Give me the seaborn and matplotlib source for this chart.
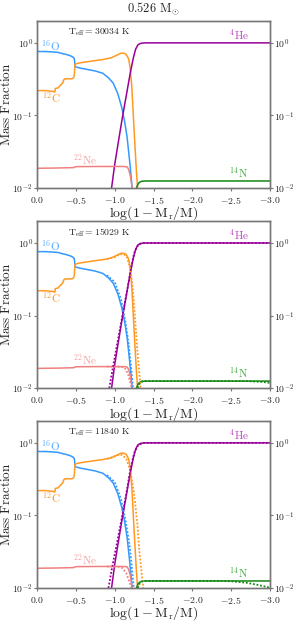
import math
import matplotlib
matplotlib.use("Agg")
import matplotlib.pyplot as plt
import matplotlib.ticker as mticker
import seaborn as sns

sns.set_style("ticks")
plt.rcParams['mathtext.fontset'] = 'cm'
plt.rcParams['font.family'] = ['DejaVu Serif']

# --- data ---
teff = [30034, 15029, 11840]

# solid profiles (same in all panels)
x_O = [0.0, -0.1, -0.2, -0.27, -0.33, -0.38, -0.42, -0.46, -0.48, -0.49, -0.55, -0.65, -0.75,
       -0.85, -0.92, -0.98, -1.04, -1.09, -1.13, -1.16, -1.19, -1.21, -1.225]
y_O = [0.76, 0.76, 0.75, 0.74, 0.71, 0.69, 0.67, 0.64, 0.61, 0.47, 0.45, 0.43, 0.41,
       0.38, 0.33, 0.28, 0.2, 0.13, 0.08, 0.05, 0.025, 0.015, 0.01]
x_C = [0.0, -0.1, -0.2, -0.23, -0.235, -0.27, -0.3, -0.33, -0.345, -0.36, -0.45, -0.47, -0.48,
       -0.49, -0.55, -0.65, -0.75, -0.85, -0.95, -1.02, -1.08, -1.12, -1.15, -1.18, -1.2,
       -1.22, -1.24, -1.26, -1.28, -1.295]
y_C = [0.22, 0.22, 0.215, 0.21, 0.235, 0.24, 0.26, 0.28, 0.31, 0.32, 0.32, 0.33, 0.36,
       0.51, 0.53, 0.55, 0.57, 0.59, 0.62, 0.67, 0.72, 0.72, 0.69, 0.6, 0.45,
       0.25, 0.1, 0.04, 0.017, 0.01]
x_He = [-0.96, -1.0, -1.05, -1.1, -1.15, -1.2, -1.24, -1.27, -1.3, -1.33, -1.36, -1.4, -3.0]
y_He = [0.01, 0.021, 0.045, 0.095, 0.19, 0.38, 0.62, 0.82, 0.94, 0.98, 0.995, 1.0, 1.0]
x_N = [-1.28, -1.3, -1.32, -1.35, -1.4, -3.0]
y_N = [0.01, 0.0113, 0.012, 0.0124, 0.0125, 0.0125]
x_Ne = [0.0, -0.3, -0.47, -0.5, -0.8, -1.1, -1.16, -1.18, -1.2, -1.215, -1.225]
y_Ne = [0.0187, 0.0189, 0.0191, 0.0197, 0.0198, 0.0198, 0.0196, 0.018, 0.015, 0.012, 0.01]

# dotted profiles, panel 2
xd2_O = [-0.9, -1.0, -1.08, -1.14, -1.18, -1.21, -1.235]
yd2_O = [0.36, 0.29, 0.17, 0.08, 0.04, 0.02, 0.01]
xd2_C = [-0.9, -1.0, -1.07, -1.12, -1.16, -1.2, -1.23, -1.26, -1.29, -1.32, -1.335]
yd2_C = [0.6, 0.64, 0.7, 0.7, 0.63, 0.45, 0.25, 0.1, 0.035, 0.015, 0.01]
xd2_He = [-0.93, -0.98, -1.04, -1.1, -1.16, -1.21, -1.25, -1.29, -1.33, -1.38, -3.0]
yd2_He = [0.01, 0.02, 0.045, 0.1, 0.22, 0.45, 0.72, 0.9, 0.98, 1.0, 1.0]
xd2_Ne = [-0.9, -1.08, -1.13, -1.17, -1.2, -1.22]
yd2_Ne = [0.0198, 0.0197, 0.019, 0.016, 0.012, 0.01]
xd2_N = [-1.3, -1.32, -1.35, -1.4, -2.7, -2.9, -3.0]
yd2_N = [0.01, 0.0115, 0.0123, 0.0125, 0.0125, 0.0122, 0.0118]

# dotted profiles, panel 3
xd3_O = [-0.9, -1.0, -1.08, -1.14, -1.19, -1.22, -1.245]
yd3_O = [0.36, 0.29, 0.17, 0.085, 0.04, 0.02, 0.01]
xd3_C = [-0.9, -1.0, -1.06, -1.1, -1.15, -1.2, -1.25, -1.29, -1.32, -1.35, -1.37]
yd3_C = [0.6, 0.65, 0.69, 0.68, 0.6, 0.42, 0.2, 0.08, 0.03, 0.015, 0.01]
xd3_He = [-0.92, -0.97, -1.03, -1.09, -1.15, -1.2, -1.25, -1.3, -1.35, -1.4, -3.0]
yd3_He = [0.01, 0.02, 0.042, 0.09, 0.2, 0.42, 0.72, 0.92, 0.985, 1.0, 1.0]
xd3_Ne = [-0.9, -1.05, -1.1, -1.15, -1.19, -1.22]
yd3_Ne = [0.0198, 0.0196, 0.0188, 0.016, 0.012, 0.01]
xd3_N = [-1.3, -1.32, -1.35, -1.4, -2.3, -2.5, -2.7, -2.85, -3.0]
yd3_N = [0.01, 0.0115, 0.0123, 0.0125, 0.0125, 0.0124, 0.0118, 0.011, 0.0101]

colors = {"O": "#3399ff", "C": "#ff9922", "He": "#990099", "N": "#118811", "Ne": "#f08080"}
label_colors = {"O": "#55aaff", "C": "#ff9933", "He": "#bb44bb", "N": "#44aa44", "Ne": "#f4a0a0"}

solid = {"O": (x_O, y_O), "C": (x_C, y_C), "He": (x_He, y_He), "N": (x_N, y_N), "Ne": (x_Ne, y_Ne)}
dotted = [None,
          {"O": (xd2_O, yd2_O), "C": (xd2_C, yd2_C), "He": (xd2_He, yd2_He), "N": (xd2_N, yd2_N), "Ne": (xd2_Ne, yd2_Ne)},
          {"O": (xd3_O, yd3_O), "C": (xd3_C, yd3_C), "He": (xd3_He, yd3_He), "N": (xd3_N, yd3_N), "Ne": (xd3_Ne, yd3_Ne)}]

labels = {"O": (-0.18, 0.92, r"$\mathrm{^{16}O}$"),
          "C": (-0.18, 0.175, r"$\mathrm{^{12}C}$"),
          "Ne": (-0.62, 0.0245, r"$\mathrm{^{22}Ne}$"),
          "He": (-2.6, 1.3, r"$\mathrm{^{4}He}$"),
          "N": (-2.6, 0.0165, r"$\mathrm{^{14}N}$")}

logfmt = mticker.FuncFormatter(lambda v, p: r"$10^{%d}$" % round(math.log10(v)))
xfmt = mticker.FuncFormatter(lambda v, p: r"$%.1f$" % v if abs(v) > 1e-9 else r"$0.0$")

fig = plt.figure(figsize=(3.01, 6.24), dpi=100)
bottoms = [0.6987, 0.378, 0.0577]
spine_col = "#777777"

for i, b in enumerate(bottoms):
    ax = fig.add_axes([0.123, b, 0.774, 0.2676])
    for sp, (xs, ys) in solid.items():
        sns.lineplot(x=xs, y=ys, ax=ax, color=colors[sp], lw=1.1, sort=False)
    if dotted[i] is not None:
        for sp, (xs, ys) in dotted[i].items():
            sns.lineplot(x=xs, y=ys, ax=ax, color=colors[sp], lw=1.3, ls=(0, (1, 1)), sort=False)
    for sp, (lx, ly, txt) in labels.items():
        ax.text(lx, ly, txt, color=label_colors[sp], fontsize=8, ha="center", va="center")
    ax.text(-0.8, 1.4, r"$\mathrm{T_{eff}} = \mathrm{%d\ K}$" % teff[i], fontsize=7, ha="center", va="center")

    ax.set_yscale("log")
    ax.set_ylim(0.01, 2.0)
    ax.set_xlim(0.0, -3.0)
    ax.set_xticks([0.0, -0.5, -1.0, -1.5, -2.0, -2.5, -3.0])
    ax.xaxis.set_major_formatter(xfmt)
    ax.set_yticks([0.01, 0.1, 1.0])
    ax.yaxis.set_major_formatter(logfmt)
    ax.yaxis.set_minor_locator(mticker.NullLocator())
    ax.set_xlabel(r"$\mathrm{log(1-M_r/M)}$", fontsize=10)
    ax.xaxis.set_label_coords(0.5, -0.1)
    ax.set_ylabel(r"$\mathrm{Mass\ Fraction}$", fontsize=9.5)
    ax.yaxis.set_label_coords(-0.103, 0.5)
    ax.tick_params(labelsize=7, length=2, color=spine_col, pad=1)
    ax.tick_params(axis="x", pad=3)

    ax2 = ax.twinx()
    ax2.set_yscale("log")
    ax2.set_ylim(0.01, 2.0)
    ax2.set_yticks([0.01, 0.1, 1.0])
    ax2.yaxis.set_major_formatter(logfmt)
    ax2.yaxis.set_minor_locator(mticker.NullLocator())
    ax2.tick_params(labelsize=7, length=2, color=spine_col, pad=1)

    for a in (ax, ax2):
        for s in a.spines.values():
            s.set_color(spine_col)
            s.set_linewidth(1.0)

    if i == 0:
        ax.set_title(r"$\mathrm{0.526\ M_{\odot}}$", fontsize=9, pad=6)

fig.savefig("out.png", dpi=100)
